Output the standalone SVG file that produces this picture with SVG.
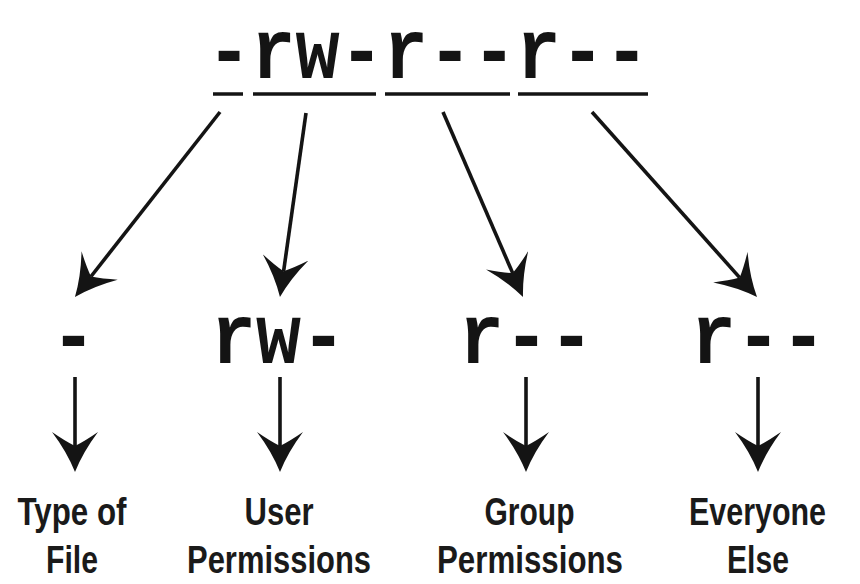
<svg xmlns="http://www.w3.org/2000/svg" width="860" height="584" viewBox="0 0 860 584">
<style>
.mono{font-family:"Liberation Mono","Courier New",monospace;font-weight:bold;font-size:85px;fill:#141414}
.lbl{font-family:"Liberation Sans Narrow","Liberation Sans",Arial,sans-serif;font-weight:bold;font-size:39px;fill:#1a1a1a;text-anchor:middle}
.ul{stroke:#141414;stroke-width:3.5;fill:none}
.conn line{stroke:#141414;stroke-width:3.6;fill:none;marker-end:url(#head)}
</style>
<defs>
<marker id="head" markerUnits="userSpaceOnUse" viewBox="0 0 40 46" refX="14" refY="23" markerWidth="40" markerHeight="46" orient="auto">
<path d="M40,23 Q20,15 0,0 Q9,13 14,23 Q9,33 0,46 Q20,31 40,23 Z" fill="#141414"/>
</marker>
</defs>
<rect width="860" height="584" fill="#fff"/>
<g id="permissions-string">
<text class="mono" x="207" y="78" textLength="442" lengthAdjust="spacingAndGlyphs">-rw-r--r--</text>
<line class="ul" x1="213" y1="94" x2="243" y2="94"/>
<line class="ul" x1="253" y1="94" x2="376" y2="94"/>
<line class="ul" x1="385" y1="94" x2="510" y2="94"/>
<line class="ul" x1="518" y1="94" x2="648" y2="94"/>
</g>
<g id="type-bits"><text class="mono" x="51" y="363" textLength="45" lengthAdjust="spacingAndGlyphs">-</text></g>
<g id="user-bits"><text class="mono" x="211" y="363" textLength="135" lengthAdjust="spacingAndGlyphs">rw-</text></g>
<g id="group-bits"><text class="mono" x="459" y="363" textLength="135" lengthAdjust="spacingAndGlyphs">r--</text></g>
<g id="other-bits"><text class="mono" x="691" y="363" textLength="135" lengthAdjust="spacingAndGlyphs">r--</text></g>
<g id="label-type"><text class="lbl" x="72" y="525" textLength="109" lengthAdjust="spacingAndGlyphs">Type of</text><text class="lbl" x="72" y="573" textLength="52" lengthAdjust="spacingAndGlyphs">File</text></g>
<g id="label-user"><text class="lbl" x="279" y="525" textLength="69" lengthAdjust="spacingAndGlyphs">User</text><text class="lbl" x="279" y="573" textLength="184" lengthAdjust="spacingAndGlyphs">Permissions</text></g>
<g id="label-group"><text class="lbl" x="529.5" y="525" textLength="90" lengthAdjust="spacingAndGlyphs">Group</text><text class="lbl" x="530" y="573" textLength="186" lengthAdjust="spacingAndGlyphs">Permissions</text></g>
<g id="label-other"><text class="lbl" x="757.5" y="525" textLength="137" lengthAdjust="spacingAndGlyphs">Everyone</text><text class="lbl" x="758" y="573" textLength="62" lengthAdjust="spacingAndGlyphs">Else</text></g>
<g id="connectors" class="conn">
<line x1="220" y1="112" x2="91" y2="276.5"/>
<line x1="306" y1="113" x2="283.6" y2="271.3"/>
<line x1="443" y1="112" x2="512.7" y2="273.1"/>
<line x1="592" y1="112" x2="739.7" y2="277.6"/>
<line x1="75" y1="377" x2="75" y2="446"/>
<line x1="280" y1="377" x2="280" y2="446"/>
<line x1="526" y1="377" x2="526" y2="446"/>
<line x1="758" y1="377" x2="758" y2="446"/>
</g>
</svg>
